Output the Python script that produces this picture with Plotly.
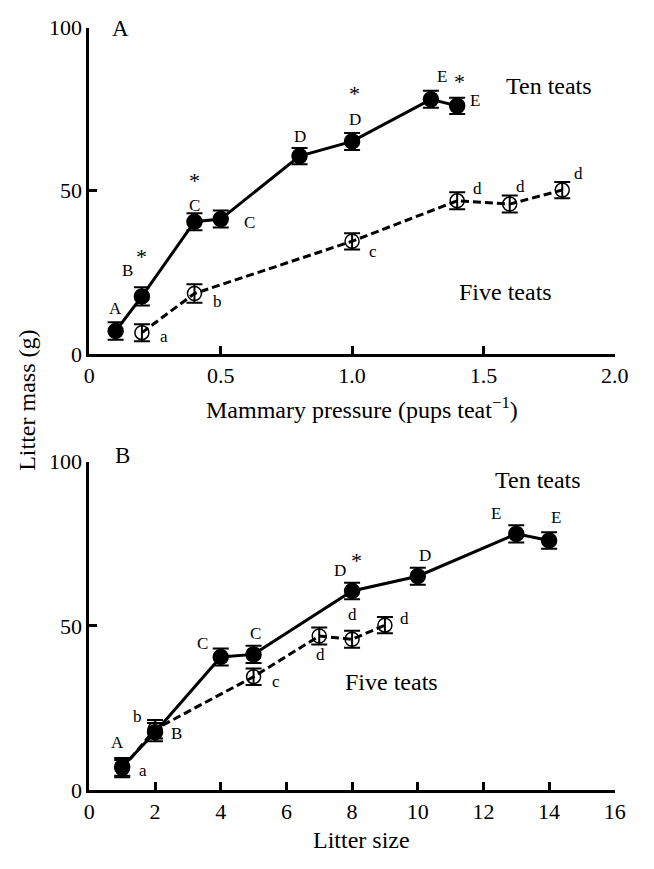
import plotly.graph_objects as go

# ---------------- data ----------------
# Panel A: mammary pressure (pups per teat)
ten_pressure = [0.1, 0.2, 0.4, 0.5, 0.8, 1.0, 1.3, 1.4]
ten_mass = [7.0, 17.6, 40.5, 41.3, 60.6, 65.1, 78.0, 76.0]
ten_err = [2.7, 2.8, 2.6, 2.6, 2.5, 2.6, 2.6, 2.5]

five_pressure = [0.2, 0.4, 1.0, 1.4, 1.6, 1.8]
five_mass = [6.5, 18.5, 34.5, 46.9, 45.9, 50.2]
five_err = [2.6, 2.8, 2.5, 2.6, 2.6, 2.5]

# Panel B: litter size
ten_litter = [1, 2, 4, 5, 8, 10, 13, 14]
five_litter = [1, 2, 5, 7, 8, 9]

xticksA = [0, 0.5, 1.0, 1.5, 2.0]
xticktextA = ["0", "0.5", "1.0", "1.5", "2.0"]
xticksB = [0, 2, 4, 6, 8, 10, 12, 14, 16]
yticks = [0, 50, 100]

# letter / significance labels: (x, y, text)
labelsA = [
    (0.10, 14.0, "A"), (0.146, 25.4, "B"), (0.40, 45.6, "C"), (0.61, 40.3, "C"),
    (0.80, 66.6, "D"), (1.01, 71.8, "D"), (1.343, 84.9, "E"), (1.466, 77.5, "E"),
    (0.285, 5.3, "a"), (0.488, 16.2, "b"), (1.081, 31.5, "c"),
    (1.476, 50.7, "d"), (1.642, 51.4, "d"), (1.863, 55.2, "d"),
]
starsA = [(0.20, 29.9), (0.40, 53.0), (1.01, 79.8), (1.41, 83.4)]
labelsB = [
    (0.87, 14.6, "A"), (2.65, 17.3, "B"), (3.44, 44.7, "C"), (5.06, 47.8, "C"),
    (7.64, 66.9, "D"), (10.23, 71.3, "D"), (12.39, 84.1, "E"), (14.2, 83.1, "E"),
    (1.62, 5.9, "a"), (1.46, 22.5, "b"), (5.68, 33.0, "c"),
    (7.03, 41.2, "d"), (8.01, 53.3, "d"), (9.6, 52.1, "d"),
]
starsB = [(8.13, 69.8)]
seriesA_text = [(1.75, 82.0, "Ten teats"), (1.583, 19.0, "Five teats")]
seriesB_text = [(13.67, 94.5, "Ten teats"), (9.2, 32.8, "Five teats")]

# ---------------- figure ----------------
W, H = 654, 869
FONT = "Liberation Serif, Times New Roman, serif"

fig = go.Figure()

def add_series(x, y, err, filled, xa, ya):
    fig.add_trace(go.Scatter(
        x=x, y=y, xaxis=xa, yaxis=ya, mode="lines+markers",
        line=dict(color="black", width=3, dash="solid" if filled else "8px,4px"),
        marker=dict(
            symbol="circle" if filled else "circle-open",
            size=15 if filled else 14, color="black",
            line=dict(color="black", width=1.5),
        ),
        error_y=dict(type="data", array=err, visible=True, color="black",
                     thickness=2, width=8),
        showlegend=False, hoverinfo="skip",
    ))

add_series(five_pressure, five_mass, five_err, False, "x", "y")
add_series(ten_pressure, ten_mass, ten_err, True, "x", "y")
add_series(five_litter, five_mass, five_err, False, "x2", "y2")
add_series(ten_litter, ten_mass, ten_err, True, "x2", "y2")

x0, x1 = 86 / W, 628 / W
axis_common = dict(
    showline=True, linewidth=3, linecolor="black", mirror=False,
    ticks="inside", ticklen=8, tickwidth=3, tickcolor="black",
    showgrid=False, zeroline=False, tickfont=dict(family=FONT, size=22, color="black"),
)
fig.update_layout(
    width=W, height=H, margin=dict(l=0, r=0, t=0, b=0),
    paper_bgcolor="white", plot_bgcolor="white",
    font=dict(family=FONT, color="black"),
    xaxis=dict(domain=[x0, x1], range=[0, 2], anchor="y",
               tickvals=xticksA, ticktext=xticktextA, **axis_common),
    yaxis=dict(domain=[1 - 352 / H, 1 - 16 / H], range=[0, 100], anchor="x",
               tickvals=yticks, **axis_common),
    xaxis2=dict(domain=[x0, x1], range=[0, 16], anchor="y2",
                tickvals=xticksB, **axis_common),
    yaxis2=dict(domain=[1 - 801 / H, 1 - 463 / H], range=[0, 100], anchor="x2",
                tickvals=yticks, **axis_common),
)

ann = []
def txt(x, y, t, size, xr, yr, **kw):
    ann.append(dict(x=x, y=y, text=t, xref=xr, yref=yr, showarrow=False,
                    xanchor="center", yanchor="middle",
                    font=dict(family=FONT, size=size, color="black"), **kw))

for x, y, t in labelsA:
    txt(x, y, t, 17, "x", "y")
for x, y in starsA:
    txt(x, y, "*", 22, "x", "y")
for x, y, t in seriesA_text:
    txt(x, y, t, 24, "x", "y")
for x, y, t in labelsB:
    txt(x, y, t, 17, "x2", "y2")
for x, y in starsB:
    txt(x, y, "*", 22, "x2", "y2")
for x, y, t in seriesB_text:
    txt(x, y, t, 24, "x2", "y2")

# panel letters
txt(118 / W, 1 - 17 / H, "A", 23, "paper", "paper")
txt(120 / W, 1 - 457 / H, "B", 23, "paper", "paper")
# axis titles
txt(367 / W, 1 - 408 / H, "Mammary pressure (pups teat<sup>−1</sup>)", 24, "paper", "paper")
txt(367 / W, 1 - 853 / H, "Litter size", 24, "paper", "paper")
txt(22 / W, 1 - 400 / H, "Litter mass (g)", 24, "paper", "paper", textangle=-90)

fig.update_layout(annotations=ann)
fig.write_html("out.html")
